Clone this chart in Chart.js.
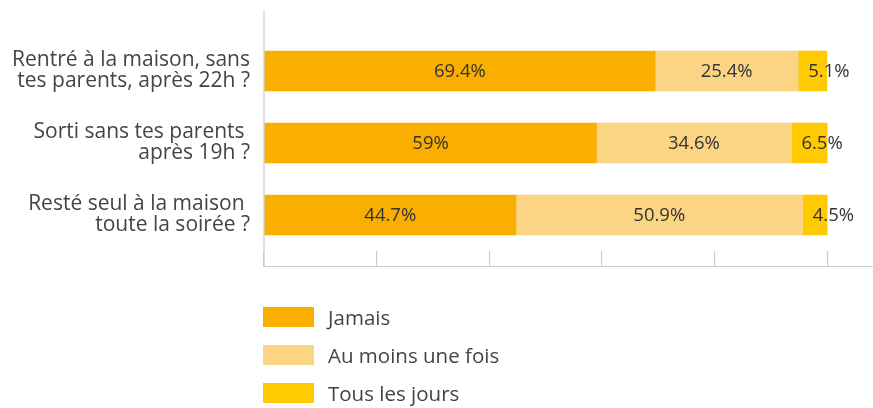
<!DOCTYPE html>
<html>
<head>
<meta charset="utf-8">
<script src="https://cdn.jsdelivr.net/npm/chart.js@4.4.1/dist/chart.umd.min.js"></script>
<style>
  html, body { margin: 0; padding: 0; background: #fff; }
  #wrap { position: relative; width: 873px; height: 408px; }
  #legend { position: absolute; left: 263px; top: 307px; font-family: "Open Sans", sans-serif; font-size: 20.5px; color: #444; }
  .li { display: flex; align-items: center; height: 20px; margin-bottom: 18px; }
  .li .box { width: 51px; height: 20px; margin-right: 14px; }
</style>
</head>
<body>
<div id="wrap">
  <canvas id="c" width="873" height="408"></canvas>
  <div id="legend"></div>
</div>
<script>
const categories = [
  ["Rentré à la maison, sans", "tes parents, après 22h ?"],
  ["Sorti sans tes parents ", "après 19h ?"],
  ["Resté seul à la maison ", "toute la soirée ?"]
];
const seriesNames = ["Jamais", "Au moins une fois", "Tous les jours"];
const jamais = [69.4, 59, 44.7];
const auMoinsUneFois = [25.4, 34.6, 50.9];
const tousLesJours = [5.1, 6.5, 4.5];
const xTicks = [0, 20, 40, 60, 80, 100];

const colors = ["#F9AE00", "#FBD584", "#FFCB00"];

const axisLines = {
  id: 'axisLines',
  afterDraw(chart) {
    const ctx = chart.ctx;
    const ca = chart.chartArea;
    const x0 = chart.scales.x.getPixelForValue(0);
    const bottom = ca.bottom + 15.5;
    ctx.save();
    ctx.strokeStyle = '#cccccc';
    ctx.lineWidth = 1.2;
    ctx.beginPath();
    ctx.moveTo(x0, 10);
    ctx.lineTo(x0, bottom);
    ctx.lineTo(chart.width, bottom);
    ctx.stroke();
    ctx.restore();
  }
};

const dataLabels = {
  id: 'dataLabels',
  afterDatasetsDraw(chart) {
    const ctx = chart.ctx;
    ctx.save();
    ctx.font = '18.5px "Open Sans", sans-serif';
    ctx.fillStyle = '#333';
    ctx.textBaseline = 'middle';
    chart.data.datasets.forEach((ds, i) => {
      const meta = chart.getDatasetMeta(i);
      meta.data.forEach((el, j) => {
        const txt = ds.data[j] + '%';
        const w = ctx.measureText(txt).width;
        const seg = Math.abs(el.x - el.base);
        if (w > seg - 4) {
          ctx.textAlign = 'left';
          ctx.fillText(txt, Math.min(el.x, el.base) + 10, el.y + 1);
        } else {
          ctx.textAlign = 'center';
          ctx.fillText(txt, (el.x + el.base) / 2, el.y + 1);
        }
      });
    });
    ctx.restore();
  }
};

const chart = new Chart(document.getElementById('c'), {
  type: 'bar',
  data: {
    labels: categories,
    datasets: [
      { label: seriesNames[0], data: jamais, backgroundColor: colors[0] },
      { label: seriesNames[1], data: auMoinsUneFois, backgroundColor: colors[1] },
      { label: seriesNames[2], data: tousLesJours, backgroundColor: colors[2] }
    ]
  },
  options: {
    indexAxis: 'y',
    responsive: false,
    animation: false,
    barThickness: 40,
    layout: { padding: { left: 0, right: 45.5, top: 34, bottom: 141 } },
    plugins: { legend: { display: false }, tooltip: { enabled: false } },
    scales: {
      x: {
        stacked: true,
        min: 0, max: 100,
        afterBuildTicks(scale) { scale.ticks = xTicks.map(v => ({ value: v })); },
        ticks: { display: false },
        grid: { drawOnChartArea: false, drawTicks: true, tickLength: 16, color: '#cccccc', lineWidth: 1.2 },
        border: { display: false }
      },
      y: {
        stacked: true,
        afterFit(scale) { scale.width = 264; },
        grid: { display: false, drawTicks: false },
        border: { display: false },
        ticks: {
          padding: 14,
          color: '#444',
          font: { family: '"Open Sans"', size: 21, lineHeight: 1.0 }
        }
      }
    }
  },
  plugins: [axisLines, dataLabels]
});

const leg = document.getElementById('legend');
chart.data.datasets.forEach(ds => {
  const d = document.createElement('div');
  d.className = 'li';
  const b = document.createElement('span');
  b.className = 'box';
  b.style.background = ds.backgroundColor;
  const t = document.createElement('span');
  t.textContent = ds.label;
  d.appendChild(b); d.appendChild(t);
  leg.appendChild(d);
});
</script>
</body>
</html>
